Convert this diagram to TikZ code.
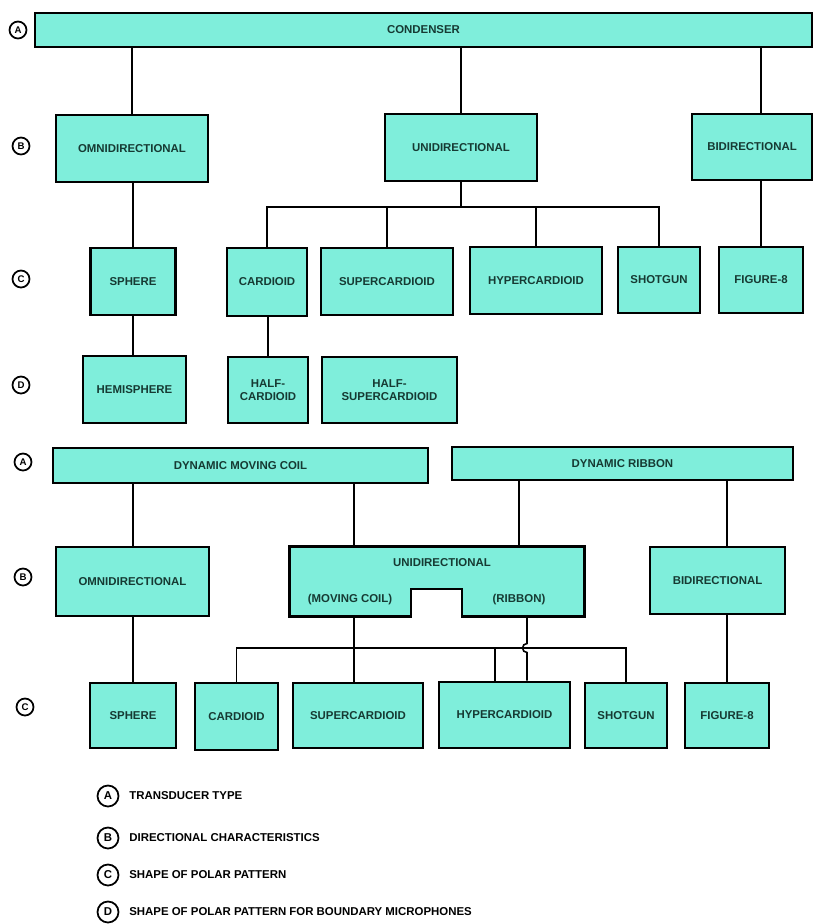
\documentclass[tikz,border=0pt]{standalone}
\usepackage{fontspec}
\setmainfont{Liberation Sans}
\definecolor{aqua}{HTML}{7FEEDB}
\definecolor{ink}{HTML}{163A33}
\newcommand{\boxfont}{\fontsize{6.5}{7.5}\selectfont\bfseries}
\tikzstyle{cat} = [draw, line width=1.6pt, fill=aqua, inner sep=0pt, text=ink, font=\boxfont, align=center]
\tikzstyle{lbl} = [inner sep=0pt, text=ink, font=\boxfont]
\tikzstyle{link} = [line width=0.9pt]
\tikzstyle{tag} = [draw, circle, line width=1pt, inner sep=0pt, minimum size=0.34cm, font=\fontsize{5.5}{6}\selectfont\bfseries]
\tikzstyle{keytag} = [draw, circle, line width=1pt, inner sep=0pt, minimum size=0.42cm, font=\fontsize{6.5}{7}\selectfont\bfseries]
\tikzstyle{keytext} = [anchor=west, inner sep=0pt, font=\fontsize{6.5}{7.5}\selectfont\bfseries]
\tikzset{wh/.style 2 args={minimum width=#1*0.02cm, minimum height=#2*0.02cm}}

\begin{document}
\begin{tikzpicture}[x=0.02cm, y=-0.02cm]
    \useasboundingbox (0,0) rectangle (817,924);
    % condenser tree
    \draw (423.5,30)  node[cat, wh={777}{34}] (cond) {CONDENSER};
    \draw (132,148.5) node[cat, wh={152}{67}] (omniA) {OMNIDIRECTIONAL};
    \draw (461,147.5) node[cat, wh={152}{67}] (uniA) {UNIDIRECTIONAL};
    \draw (752,147)   node[cat, wh={120}{66}] (bidiA) {BIDIRECTIONAL};
    \draw (133,281.5) node[cat, wh={85}{67}] (sphA) {SPHERE};
    \draw (267,282)   node[cat, wh={80}{68}] (cardA) {CARDIOID};
    \draw (387,281.5) node[cat, wh={132}{67}] (supA) {SUPERCARDIOID};
    \draw (536,280.5) node[cat, wh={132}{67}] (hypA) {HYPERCARDIOID};
    \draw (659,280)   node[cat, wh={82}{66}] (shotA) {SHOTGUN};
    \draw (761,280)   node[cat, wh={84}{66}] (figA) {FIGURE-8};
    \draw (134.5,389.5) node[cat, wh={103}{67}] (hemiA) {HEMISPHERE};
    \draw (268,390)   node[cat, wh={80}{66}] (hcardA) {HALF-\\CARDIOID};
    \draw (389.5,390) node[cat, wh={135}{66}] (hsupA) {HALF-\\SUPERCARDIOID};
    \coordinate (busA) at (461,207);
    \draw[link] (cond.south -| omniA.north) -- (omniA.north);
    \draw[link] (cond.south -| uniA.north) -- (uniA.north);
    \draw[link] (cond.south -| figA.north) -- (bidiA.north -| figA.north);
    \draw[link] (omniA.south -| sphA.north) -- (sphA.north);
    \draw[link] (sphA.south) -- (sphA.south |- hemiA.north);
    \draw[link] (uniA.south) -- (busA);
    \draw[link] (cardA.north) |- (shotA.north |- busA) -- (shotA.north);
    \draw[link] (supA.north |- busA) -- (supA.north);
    \draw[link] (hypA.north |- busA) -- (hypA.north);
    \draw[link] (bidiA.south -| figA.north) -- (figA.north);
    \draw[link] (cardA.south -| hcardA.north) -- (hcardA.north);
    % dynamic tree
    \draw (240.5,465.5) node[cat, wh={375}{35}] (dmc) {DYNAMIC MOVING COIL};
    \draw (622.5,463.5) node[cat, wh={341}{33}] (rib) {DYNAMIC RIBBON};
    \draw (132.5,581.5) node[cat, wh={153}{69}] (omniB) {OMNIDIRECTIONAL};
    \draw (437,581.5)   node[wh={294}{69}] (uniB) {};
    \coordinate (notchL) at (411,589);
    \coordinate (notchR) at (462,589);
    \filldraw[fill=aqua, line width=1.6pt] (uniB.north west) -- (uniB.north east) -- (uniB.south east)
        -- (uniB.south -| notchR) -- (notchR) -- (notchL) -- (uniB.south -| notchL) -- (uniB.south west) -- cycle;
    \draw (442,563) node[lbl] (uniBt) {UNIDIRECTIONAL};
    \draw (350,600) node[lbl] (mcoil) {(MOVING COIL)};
    \draw (519,600) node[lbl] (ribl) {(RIBBON)};
    \draw (717.5,580.5) node[cat, wh={135}{67}] (bidiB) {BIDIRECTIONAL};
    \draw (133,715.5)   node[cat, wh={86}{65}] (sphB) {SPHERE};
    \draw (236.5,716.5) node[cat, wh={83}{67}] (cardB) {CARDIOID};
    \draw (358,715.5)   node[cat, wh={130}{65}] (supB) {SUPERCARDIOID};
    \draw (504.5,715)   node[cat, wh={131}{66}] (hypB) {HYPERCARDIOID};
    \draw (626,715.5)   node[cat, wh={82}{65}] (shotB) {SHOTGUN};
    \draw (727,715.5)   node[cat, wh={84}{65}] (figB) {FIGURE-8};
    \coordinate (busB) at (354,648);
    \coordinate (hypTap) at (495,648);
    \coordinate (hop) at (527,648);
    \draw[link] (dmc.south -| sphB.north) -- (omniB.north -| sphB.north);
    \draw[link] (dmc.south -| busB) -- (uniB.north -| busB);
    \draw[link] (rib.south -| ribl) -- (uniB.north -| ribl);
    \draw[link] (rib.south -| figB.north) -- (bidiB.north -| figB.north);
    \draw[link] (omniB.south -| sphB.north) -- (sphB.north);
    \draw[link] (uniB.south -| busB) -- (supB.north -| busB);
    \draw[link] (cardB.north) |- (shotB.north |- busB) -- (shotB.north);
    \draw[link] (hypTap) -- (hypB.north -| hypTap);
    \draw[link] (uniB.south -| hop) -- ([yshift=0.09cm]hop) arc[start angle=90, end angle=270, radius=0.09cm] -- (hypB.north -| hop);
    \draw[link] (bidiB.south -| figB.north) -- (figB.north);
    % row tags
    \node[tag] (tA1) at (18,30) {A};
    \node[tag] (tB1) at (21,146) {B};
    \node[tag] (tC1) at (21,279) {C};
    \node[tag] (tD1) at (21,385) {D};
    \node[tag] (tA2) at (23,462) {A};
    \node[tag] (tB2) at (23,577) {B};
    \node[tag] (tC2) at (25,707) {C};
    % key
    \node[keytag] (kA) at (108,796) {A};
    \node[keytag] (kB) at (108,838) {B};
    \node[keytag] (kC) at (108,875) {C};
    \node[keytag] (kD) at (108,912) {D};
    \node[keytext] (kAt) at (129,796) {TRANSDUCER TYPE};
    \node[keytext] (kBt) at (129,838) {DIRECTIONAL CHARACTERISTICS};
    \node[keytext] (kCt) at (129,875) {SHAPE OF POLAR PATTERN};
    \node[keytext] (kDt) at (129,912) {SHAPE OF POLAR PATTERN FOR BOUNDARY MICROPHONES};
\end{tikzpicture}
\end{document}
